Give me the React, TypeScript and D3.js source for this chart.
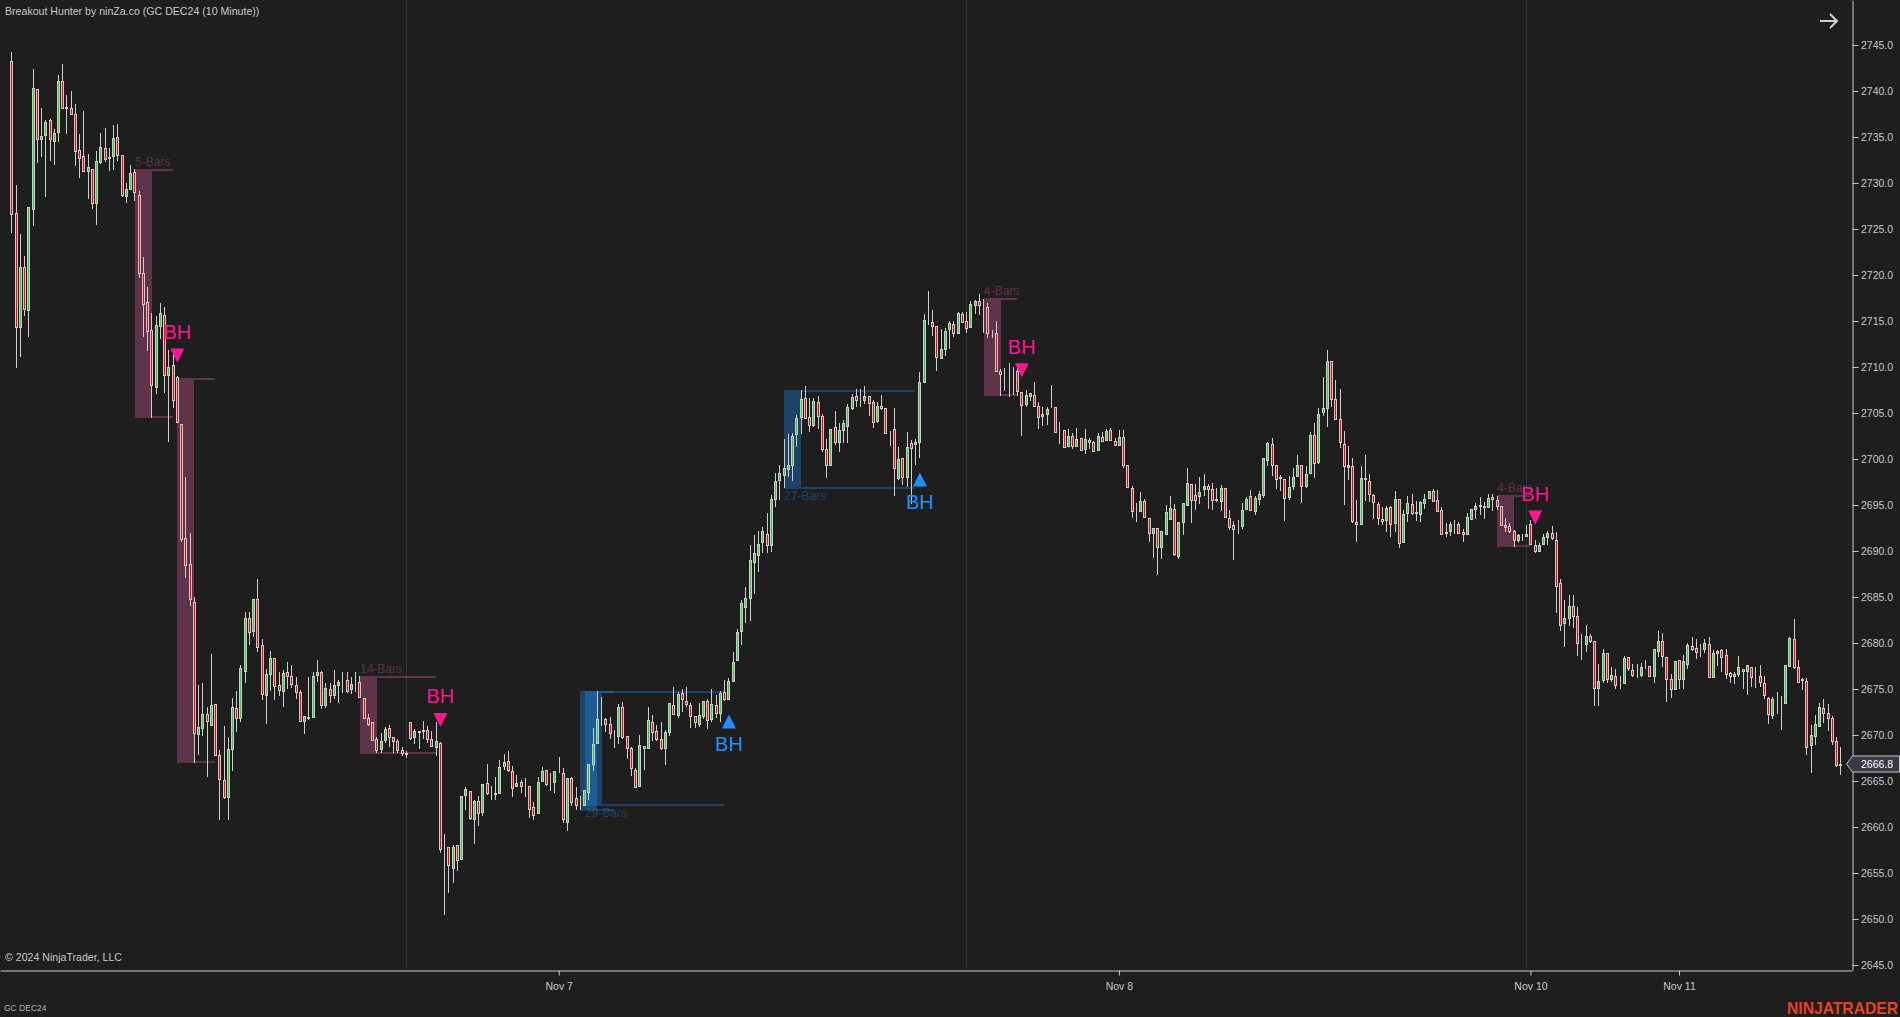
// App.tsx
import React, { useRef, useEffect } from 'react';
import * as d3 from 'd3';

// [open, high, low, close], one array per session
type Bar = [number, number, number, number];

const nov6Bars: Bar[] = [
    [2743.3, 2744.2, 2724.6, 2726.6], [2726.7, 2729.8, 2709.9, 2714.4], [2714.4, 2724.5, 2711.1, 2720.9], [2720.9, 2722.1, 2715.5, 2716.3],
    [2716.2, 2727.4, 2713.3, 2727.4], [2727.2, 2742.4, 2725.3, 2740.3], [2740.2, 2740.2, 2732.2, 2734.8], [2734.8, 2738.2, 2732.8, 2735.1],
    [2735.2, 2736.9, 2728.5, 2736.6], [2736.8, 2737.0, 2732.4, 2734.8], [2734.6, 2735.9, 2732.0, 2735.4], [2735.5, 2741.7, 2734.5, 2741.1],
    [2741.1, 2742.9, 2738.1, 2738.1], [2738.3, 2739.6, 2735.3, 2738.2], [2738.2, 2740.0, 2737.5, 2737.5], [2737.5, 2738.6, 2731.8, 2733.5],
    [2733.6, 2735.3, 2730.5, 2732.7], [2732.9, 2737.8, 2731.3, 2731.3], [2731.3, 2733.2, 2728.3, 2731.7], [2731.5, 2731.5, 2727.2, 2727.8],
    [2727.8, 2733.5, 2725.4, 2732.4], [2732.3, 2735.4, 2732.1, 2733.9], [2733.8, 2736.0, 2732.3, 2732.6], [2732.8, 2733.8, 2731.3, 2732.7],
    [2732.9, 2736.3, 2731.4, 2734.9], [2735.0, 2736.4, 2732.4, 2733.0], [2733.0, 2733.0, 2728.5, 2728.7], [2728.6, 2730.0, 2727.8, 2729.3],
    [2729.3, 2732.0, 2729.2, 2731.1], [2731.2, 2731.5, 2728.0, 2729.0], [2728.7, 2729.1, 2719.7, 2720.2], [2720.2, 2722.0, 2713.3, 2716.8],
    [2717.1, 2718.7, 2711.7, 2713.9], [2714.0, 2715.9, 2704.5, 2708.0], [2707.8, 2715.5, 2707.1, 2714.6], [2714.5, 2717.0, 2713.0, 2715.9],
    [2715.7, 2716.5, 2707.2, 2709.1], [2709.1, 2711.9, 2701.9, 2710.0], [2710.2, 2711.9, 2705.5, 2706.4], [2708.9, 2709.0, 2703.9, 2704.0],
    [2703.8, 2703.8, 2691.0, 2691.3], [2691.4, 2698.0, 2687.1, 2688.5], [2688.6, 2692.0, 2684.0, 2684.8], [2684.5, 2685.0, 2667.0, 2670.2],
    [2670.1, 2675.4, 2667.8, 2670.9], [2670.8, 2675.7, 2669.9, 2672.3], [2672.3, 2673.1, 2665.4, 2671.5], [2671.1, 2678.8, 2671.1, 2673.3],
    [2673.4, 2673.4, 2667.8, 2667.8], [2667.8, 2668.4, 2660.8, 2665.2], [2665.1, 2671.0, 2663.1, 2663.3], [2663.3, 2669.8, 2660.8, 2668.5],
    [2668.5, 2674.0, 2666.1, 2673.0], [2672.9, 2674.8, 2670.3, 2671.8], [2671.9, 2677.6, 2671.4, 2677.3], [2677.0, 2683.4, 2675.6, 2682.7],
    [2682.7, 2683.4, 2679.8, 2681.2], [2681.3, 2684.8, 2680.7, 2684.8], [2684.8, 2687.0, 2679.0, 2679.6], [2679.8, 2680.4, 2673.8, 2674.5],
    [2674.4, 2677.2, 2671.2, 2676.6], [2676.6, 2679.1, 2674.8, 2678.4], [2678.4, 2678.4, 2673.8, 2675.3], [2675.4, 2676.8, 2674.2, 2674.9],
    [2674.8, 2677.1, 2673.1, 2676.7], [2676.8, 2677.9, 2675.0, 2676.4], [2676.4, 2677.6, 2675.1, 2675.5], [2675.4, 2676.3, 2673.9, 2674.7],
    [2674.7, 2674.9, 2671.5, 2671.5], [2671.5, 2672.1, 2670.1, 2672.1], [2671.9, 2676.3, 2671.6, 2672.0], [2672.0, 2676.9, 2671.8, 2676.4],
    [2676.5, 2678.2, 2675.8, 2676.8], [2676.9, 2677.0, 2672.8, 2673.3], [2673.3, 2675.7, 2672.9, 2675.1], [2675.0, 2675.6, 2673.5, 2674.3],
    [2674.4, 2677.1, 2673.9, 2675.4], [2675.4, 2676.0, 2673.5, 2675.8], [2676.0, 2676.9, 2674.6, 2676.0], [2676.0, 2676.9, 2674.6, 2674.8],
    [2675.0, 2676.3, 2674.5, 2675.5], [2675.8, 2676.9, 2674.7, 2675.8], [2675.8, 2676.4, 2674.0, 2674.1], [2674.0, 2674.0, 2671.9, 2671.9],
    [2671.9, 2672.3, 2671.0, 2671.2], [2671.4, 2671.4, 2669.4, 2669.5], [2669.6, 2669.8, 2668.0, 2668.4], [2668.5, 2670.2, 2668.1, 2669.4],
    [2669.5, 2670.9, 2669.1, 2670.7], [2670.8, 2671.1, 2668.7, 2669.8], [2669.8, 2669.8, 2668.0, 2669.4], [2669.4, 2669.6, 2668.1, 2668.4],
    [2668.4, 2668.7, 2667.7, 2668.0],
];

const nov7EarlyBars: Bar[] = [
    [2667.9, 2668.3, 2667.5, 2668.1], [2671.4, 2671.4, 2669.5, 2669.7], [2669.8, 2670.7, 2669.0, 2670.4], [2670.4, 2670.4, 2668.5, 2670.3],
    [2670.4, 2671.5, 2669.6, 2670.6], [2670.6, 2671.0, 2669.1, 2669.6], [2669.6, 2670.4, 2668.7, 2668.8], [2668.7, 2671.4, 2667.7, 2669.3],
    [2669.1, 2669.2, 2657.2, 2657.6], [2657.7, 2659.2, 2650.4, 2657.7], [2657.8, 2657.8, 2652.8, 2655.9], [2655.6, 2658.0, 2653.9, 2657.8],
    [2658.0, 2658.1, 2655.2, 2656.4], [2656.5, 2663.4, 2656.5, 2663.4], [2663.5, 2664.4, 2661.8, 2664.1], [2663.9, 2663.9, 2660.8, 2661.0],
    [2660.9, 2662.9, 2658.2, 2662.8], [2662.8, 2663.4, 2660.1, 2661.5], [2661.6, 2664.7, 2661.2, 2664.7], [2664.8, 2666.8, 2663.5, 2663.7],
    [2663.8, 2664.5, 2662.9, 2663.8], [2663.7, 2665.4, 2662.9, 2663.6], [2663.7, 2667.3, 2663.7, 2666.5], [2666.6, 2667.9, 2666.2, 2667.1],
    [2667.2, 2668.3, 2666.0, 2666.2], [2666.1, 2666.6, 2663.3, 2664.2], [2664.5, 2665.7, 2664.4, 2664.8], [2664.9, 2665.1, 2663.7, 2664.5],
    [2664.4, 2665.3, 2663.3, 2664.4], [2664.5, 2664.5, 2661.0, 2662.0], [2662.2, 2662.7, 2660.8, 2661.3], [2661.5, 2665.4, 2661.5, 2664.9],
    [2665.0, 2666.5, 2665.0, 2666.1], [2666.2, 2666.2, 2664.5, 2664.7], [2664.8, 2665.9, 2663.9, 2664.8], [2664.9, 2666.1, 2663.7, 2666.1],
];

const nov7Bars: Bar[] = [
    [2666.1, 2667.6, 2665.9, 2666.1], [2665.9, 2666.4, 2660.4, 2660.9], [2660.6, 2665.3, 2659.6, 2665.3], [2665.3, 2665.4, 2662.3, 2662.7],
    [2663.2, 2664.3, 2661.9, 2662.4], [2662.4, 2663.4, 2661.8, 2662.4], [2662.4, 2664.0, 2662.3, 2664.0], [2663.8, 2666.9, 2662.9, 2666.9],
    [2666.8, 2670.8, 2666.1, 2669.0], [2669.1, 2674.8, 2669.1, 2671.7], [2671.6, 2674.1, 2671.0, 2671.6], [2671.7, 2671.9, 2670.3, 2671.2],
    [2671.2, 2672.0, 2669.6, 2670.2], [2670.2, 2670.5, 2668.6, 2670.2], [2669.9, 2673.4, 2669.0, 2673.0], [2673.1, 2673.6, 2669.6, 2669.8],
    [2669.9, 2669.9, 2667.4, 2668.6], [2668.6, 2668.7, 2665.6, 2666.4], [2666.2, 2666.4, 2664.4, 2664.4], [2664.5, 2670.0, 2664.4, 2668.9],
    [2668.8, 2668.8, 2666.2, 2668.6], [2668.6, 2673.0, 2668.5, 2671.6], [2671.4, 2672.2, 2669.3, 2670.3], [2670.4, 2671.1, 2669.3, 2669.6],
    [2669.6, 2671.4, 2668.4, 2668.6], [2668.6, 2670.5, 2666.7, 2670.3], [2670.3, 2673.5, 2669.9, 2673.5], [2673.3, 2675.2, 2672.3, 2672.3],
    [2672.2, 2674.7, 2671.9, 2674.5], [2674.6, 2675.0, 2672.5, 2673.9], [2673.7, 2675.2, 2673.1, 2673.4], [2673.3, 2673.5, 2670.8, 2672.1],
    [2672.1, 2672.1, 2670.8, 2671.4], [2671.2, 2673.5, 2670.9, 2672.2], [2672.1, 2673.7, 2671.7, 2673.7], [2673.7, 2673.9, 2670.7, 2671.6],
    [2671.7, 2675.0, 2671.4, 2673.4], [2673.3, 2674.4, 2671.8, 2672.4], [2672.4, 2674.8, 2671.4, 2674.6], [2674.7, 2676.0, 2673.7, 2673.9],
    [2673.9, 2676.2, 2673.9, 2675.9], [2675.9, 2679.0, 2675.8, 2677.9], [2678.1, 2681.5, 2678.1, 2681.2], [2681.3, 2684.7, 2679.8, 2684.3],
    [2683.9, 2686.1, 2682.2, 2684.9], [2684.9, 2690.6, 2682.4, 2689.0], [2688.8, 2691.7, 2685.3, 2689.8], [2689.6, 2692.2, 2687.7, 2690.8],
    [2691.0, 2692.6, 2689.8, 2692.2], [2691.9, 2694.1, 2689.8, 2690.6], [2690.7, 2696.1, 2689.9, 2695.7], [2695.7, 2698.5, 2694.8, 2697.6],
    [2697.7, 2699.3, 2695.5, 2698.5], [2698.3, 2702.2, 2696.8, 2699.0], [2698.9, 2702.7, 2698.0, 2699.4], [2699.3, 2702.8, 2697.6, 2702.5],
    [2702.7, 2704.8, 2701.3, 2704.5], [2704.6, 2707.5, 2702.7, 2706.5], [2706.6, 2707.9, 2704.3, 2704.5], [2704.6, 2706.6, 2702.9, 2703.7],
    [2703.7, 2706.6, 2703.5, 2706.3], [2706.2, 2706.8, 2703.3, 2704.7], [2704.7, 2704.9, 2700.8, 2701.1], [2701.1, 2702.2, 2697.9, 2699.3],
    [2699.4, 2703.3, 2699.3, 2703.3], [2703.5, 2705.2, 2701.5, 2701.9], [2701.8, 2703.9, 2700.8, 2703.2], [2703.1, 2704.2, 2701.7, 2703.9],
    [2703.6, 2706.0, 2701.7, 2705.6], [2705.5, 2707.1, 2705.3, 2706.7], [2706.9, 2707.6, 2705.6, 2706.4], [2706.5, 2707.6, 2705.7, 2706.5],
    [2706.4, 2707.9, 2706.0, 2706.9], [2706.9, 2706.9, 2704.7, 2706.1], [2706.2, 2706.4, 2703.4, 2704.0], [2704.1, 2706.2, 2703.9, 2705.8],
    [2705.8, 2707.0, 2705.3, 2705.5], [2705.5, 2705.5, 2702.8, 2702.8], [2703.0, 2703.0, 2701.4, 2703.0], [2703.3, 2705.5, 2696.0, 2699.0],
    [2697.9, 2701.3, 2697.7, 2700.0], [2700.1, 2700.1, 2697.2, 2698.0], [2698.0, 2702.9, 2697.0, 2701.3], [2701.7, 2702.1, 2695.1, 2701.2],
    [2701.6, 2702.2, 2699.3, 2701.8], [2701.8, 2709.5, 2700.1, 2708.4], [2708.4, 2715.8, 2708.3, 2715.1], [2715.1, 2718.3, 2714.6, 2715.1],
    [2714.9, 2716.2, 2713.4, 2714.5], [2714.5, 2714.5, 2709.6, 2711.1], [2711.0, 2714.1, 2710.9, 2712.0], [2712.0, 2714.2, 2711.2, 2713.9],
    [2714.1, 2715.0, 2712.0, 2714.8], [2714.7, 2715.0, 2713.3, 2713.7], [2713.7, 2716.0, 2713.6, 2715.9], [2715.8, 2716.0, 2714.8, 2714.9],
];

const nov8EarlyBars: Bar[] = [
    [2715.0, 2716.0, 2713.7, 2714.2], [2714.4, 2717.2, 2714.3, 2716.8], [2716.7, 2717.3, 2715.8, 2717.2], [2717.2, 2717.9, 2715.6, 2716.7],
    [2716.6, 2717.4, 2713.7, 2716.6], [2716.5, 2717.0, 2713.2, 2713.7], [2713.7, 2714.0, 2713.1, 2713.7], [2713.7, 2715.0, 2709.6, 2709.6],
    [2709.6, 2709.8, 2706.9, 2709.2], [2709.3, 2709.9, 2707.4, 2709.3], [2709.3, 2710.4, 2706.7, 2709.4], [2709.4, 2710.0, 2707.0, 2709.4],
    [2709.6, 2710.2, 2706.9, 2707.4], [2707.3, 2707.3, 2702.5, 2705.9], [2706.0, 2707.5, 2705.7, 2707.0], [2706.9, 2707.2, 2706.3, 2707.2],
    [2707.0, 2708.4, 2705.8, 2705.8], [2705.8, 2706.2, 2703.3, 2704.6], [2704.7, 2705.6, 2703.6, 2704.9], [2704.9, 2705.6, 2703.7, 2705.4],
    [2705.5, 2708.0, 2705.5, 2705.5], [2705.6, 2705.6, 2702.8, 2702.9], [2703.0, 2704.0, 2701.6, 2703.0], [2703.2, 2703.2, 2701.3, 2701.3],
    [2701.4, 2703.3, 2701.3, 2702.5], [2702.5, 2702.8, 2701.1, 2701.4], [2701.4, 2703.4, 2701.3, 2702.2], [2702.3, 2702.3, 2700.9, 2701.0],
    [2701.1, 2703.3, 2700.5, 2702.2], [2702.1, 2702.3, 2701.1, 2701.8], [2701.9, 2702.0, 2700.8, 2700.9], [2701.0, 2702.8, 2700.9, 2702.5],
    [2702.4, 2702.9, 2701.8, 2702.0], [2702.1, 2703.3, 2702.0, 2703.0], [2703.1, 2703.4, 2702.0, 2702.1], [2702.0, 2702.3, 2701.4, 2701.5],
];

const nov8Bars: Bar[] = [
    [2701.5, 2703.2, 2701.4, 2702.4], [2702.4, 2703.1, 2699.0, 2699.3], [2699.3, 2699.4, 2697.0, 2697.0], [2696.9, 2697.1, 2693.6, 2694.3],
    [2694.4, 2695.2, 2693.2, 2694.4], [2694.4, 2696.4, 2694.3, 2695.4], [2695.4, 2695.7, 2693.6, 2693.7], [2693.6, 2693.6, 2691.0, 2692.0],
    [2692.0, 2692.5, 2689.2, 2692.5], [2692.5, 2692.5, 2687.4, 2690.4], [2690.4, 2692.2, 2689.1, 2692.2], [2691.9, 2695.0, 2691.9, 2694.2],
    [2693.5, 2696.0, 2693.4, 2694.7], [2694.6, 2695.1, 2689.5, 2689.7], [2689.5, 2693.2, 2689.1, 2693.2], [2693.2, 2695.2, 2691.7, 2695.2],
    [2695.0, 2699.0, 2695.0, 2697.4], [2697.3, 2697.3, 2693.0, 2695.5], [2696.1, 2697.3, 2694.5, 2695.5], [2696.0, 2698.0, 2695.1, 2696.4],
    [2696.7, 2698.4, 2696.0, 2697.1], [2697.1, 2697.3, 2694.6, 2696.7], [2696.7, 2697.4, 2694.5, 2695.5], [2695.5, 2696.8, 2695.3, 2695.6],
    [2695.4, 2697.2, 2694.4, 2696.8], [2696.8, 2696.8, 2693.6, 2693.7], [2693.6, 2694.5, 2692.3, 2692.6], [2692.8, 2693.3, 2689.0, 2692.4],
    [2692.6, 2693.4, 2691.8, 2692.6], [2692.7, 2695.2, 2692.4, 2694.5], [2694.6, 2695.9, 2694.5, 2695.7], [2696.0, 2696.6, 2694.4, 2694.5],
    [2694.4, 2696.0, 2693.9, 2695.8], [2695.7, 2696.5, 2695.0, 2696.2], [2696.1, 2700.1, 2695.8, 2700.1], [2699.9, 2701.9, 2699.2, 2701.7],
    [2701.6, 2702.3, 2698.2, 2699.3], [2699.4, 2699.4, 2696.7, 2697.8], [2698.0, 2698.3, 2696.5, 2697.9], [2697.8, 2697.8, 2693.3, 2695.8],
    [2695.9, 2698.1, 2695.5, 2697.0], [2697.1, 2699.0, 2696.6, 2698.0], [2698.1, 2700.4, 2698.0, 2699.3], [2699.3, 2699.4, 2695.2, 2697.1],
    [2697.1, 2699.2, 2696.9, 2698.4], [2698.5, 2702.9, 2698.4, 2702.6], [2702.6, 2703.9, 2697.9, 2699.6], [2699.7, 2705.5, 2699.5, 2704.9],
    [2705.1, 2708.9, 2704.7, 2705.5], [2705.5, 2711.8, 2703.5, 2710.7], [2710.6, 2710.6, 2705.7, 2706.5], [2706.5, 2708.6, 2704.2, 2704.3],
    [2704.4, 2707.6, 2701.2, 2701.8], [2701.6, 2703.0, 2695.0, 2699.2], [2699.1, 2701.4, 2697.7, 2699.3], [2699.2, 2700.1, 2693.0, 2693.3],
    [2693.2, 2695.5, 2691.0, 2692.9], [2692.9, 2699.2, 2692.9, 2697.9], [2697.9, 2700.4, 2695.4, 2697.8], [2697.6, 2698.4, 2695.3, 2696.2],
    [2696.1, 2696.2, 2693.5, 2695.3], [2695.1, 2695.3, 2692.8, 2693.6], [2693.5, 2694.8, 2692.8, 2693.3], [2693.4, 2694.9, 2692.1, 2694.7],
    [2694.8, 2694.9, 2691.5, 2692.9], [2693.0, 2696.5, 2692.1, 2695.6], [2695.7, 2695.7, 2690.3, 2690.9], [2691.0, 2694.5, 2691.0, 2694.0],
    [2694.1, 2696.0, 2693.2, 2695.2], [2695.1, 2696.2, 2693.9, 2694.1], [2694.2, 2695.4, 2693.3, 2694.1], [2694.0, 2695.4, 2693.2, 2695.3],
    [2695.2, 2696.2, 2694.6, 2695.7], [2695.8, 2696.5, 2695.7, 2696.5], [2696.5, 2696.7, 2695.3, 2695.4], [2695.5, 2696.6, 2694.2, 2694.3],
    [2694.5, 2694.8, 2691.9, 2691.9], [2692.1, 2693.0, 2691.5, 2692.0], [2692.2, 2693.1, 2691.6, 2692.9], [2693.0, 2693.4, 2691.8, 2693.0],
    [2692.9, 2693.1, 2691.8, 2692.0], [2692.1, 2692.4, 2691.0, 2691.8], [2691.8, 2694.1, 2691.7, 2693.7], [2693.5, 2694.6, 2693.4, 2694.6],
    [2694.6, 2695.2, 2693.5, 2694.9], [2695.0, 2695.9, 2693.9, 2694.9], [2694.9, 2695.3, 2693.5, 2694.8], [2694.8, 2696.2, 2694.7, 2695.8],
    [2695.9, 2696.2, 2694.4, 2695.6], [2695.5, 2696.0, 2694.5, 2694.9], [2694.9, 2694.9, 2692.7, 2692.8], [2692.8, 2693.6, 2692.1, 2692.6],
    [2692.7, 2693.0, 2692.0, 2692.2], [2692.2, 2692.3, 2690.4, 2691.2], [2691.2, 2691.9, 2690.9, 2691.7], [2691.6, 2691.8, 2691.1, 2691.6],
];

const nov10Bars: Bar[] = [
    [2691.6, 2692.8, 2691.5, 2691.8], [2692.9, 2693.4, 2690.8, 2690.8], [2690.7, 2691.2, 2689.8, 2690.0], [2690.0, 2690.9, 2690.0, 2690.7],
    [2690.8, 2691.8, 2690.7, 2691.5], [2691.5, 2692.2, 2690.6, 2692.0], [2692.0, 2692.7, 2691.2, 2691.4], [2691.2, 2692.1, 2683.3, 2686.2],
    [2686.5, 2687.0, 2681.3, 2682.0], [2682.2, 2684.7, 2679.6, 2682.7], [2682.7, 2685.2, 2681.8, 2684.0], [2684.0, 2685.2, 2681.6, 2682.9],
    [2682.9, 2683.9, 2678.6, 2680.0], [2679.9, 2681.0, 2678.2, 2679.9], [2679.9, 2682.0, 2679.0, 2680.8], [2680.8, 2681.0, 2680.0, 2680.2],
    [2680.2, 2680.2, 2673.2, 2675.1], [2675.1, 2677.7, 2673.2, 2675.9], [2676.0, 2679.3, 2675.7, 2678.9], [2678.9, 2678.9, 2675.6, 2676.1],
    [2676.1, 2677.4, 2675.8, 2676.5], [2676.4, 2677.2, 2675.0, 2675.4], [2675.6, 2676.4, 2675.0, 2675.6], [2675.6, 2678.6, 2675.5, 2678.4],
    [2678.5, 2678.5, 2677.0, 2677.3], [2677.1, 2677.7, 2676.3, 2676.5], [2676.6, 2677.7, 2676.2, 2676.6], [2676.5, 2677.8, 2676.3, 2677.4],
    [2677.5, 2678.1, 2677.2, 2677.5], [2677.5, 2677.5, 2676.3, 2676.4], [2676.4, 2679.4, 2675.7, 2679.3], [2679.1, 2681.3, 2678.5, 2680.2],
    [2680.2, 2681.1, 2677.4, 2678.6], [2678.5, 2678.5, 2673.6, 2676.1], [2676.1, 2676.6, 2674.0, 2675.0], [2675.0, 2678.0, 2675.0, 2678.0],
];

const nov11Bars: Bar[] = [
    [2678.1, 2678.1, 2675.0, 2676.1], [2676.1, 2678.7, 2675.0, 2678.0], [2677.7, 2680.0, 2677.2, 2679.8], [2679.7, 2680.7, 2679.1, 2679.4],
    [2679.5, 2680.4, 2678.3, 2679.0], [2679.2, 2679.9, 2678.5, 2679.2], [2679.3, 2680.4, 2678.9, 2680.0], [2679.9, 2680.6, 2676.2, 2676.3],
    [2676.3, 2679.2, 2676.2, 2678.9], [2678.9, 2679.2, 2677.5, 2679.1], [2679.2, 2679.3, 2676.8, 2678.5], [2678.7, 2679.3, 2676.1, 2676.6],
    [2676.7, 2676.8, 2675.6, 2676.4], [2676.4, 2676.8, 2675.5, 2676.6], [2676.6, 2678.6, 2676.3, 2677.4], [2677.2, 2677.2, 2675.0, 2677.0],
    [2677.0, 2677.6, 2674.4, 2677.6], [2677.4, 2677.4, 2675.2, 2676.3], [2676.4, 2677.4, 2675.1, 2676.4], [2676.4, 2677.6, 2675.2, 2675.8],
    [2675.6, 2676.4, 2673.9, 2674.3], [2674.0, 2674.1, 2671.2, 2672.3], [2672.2, 2674.1, 2671.7, 2673.9], [2673.8, 2674.7, 2672.3, 2673.8],
    [2673.6, 2674.2, 2670.6, 2673.6], [2673.5, 2677.6, 2673.4, 2677.6], [2677.5, 2680.6, 2677.5, 2680.5], [2680.4, 2682.6, 2677.2, 2677.4],
    [2677.4, 2678.1, 2675.6, 2675.8], [2676.1, 2676.2, 2674.9, 2676.0], [2675.9, 2676.2, 2667.8, 2668.7], [2668.9, 2671.1, 2665.9, 2670.0],
    [2669.9, 2672.2, 2668.9, 2671.2], [2671.0, 2673.5, 2671.0, 2673.0], [2672.9, 2673.9, 2671.3, 2672.4], [2672.4, 2673.4, 2670.4, 2671.8],
    [2671.9, 2672.1, 2668.9, 2669.3], [2669.4, 2669.8, 2666.5, 2666.7], [2666.7, 2668.7, 2665.7, 2666.9],
];

const bars: Bar[] = [...nov6Bars, ...nov7EarlyBars, ...nov7Bars, ...nov8EarlyBars, ...nov8Bars, ...nov10Bars, ...nov11Bars];

const priceTicks = [2645, 2650, 2655, 2660, 2665, 2670, 2675, 2680, 2685, 2690, 2695, 2700, 2705, 2710, 2715, 2720, 2725, 2730, 2735, 2740, 2745];
const dateTickBars = [129, 261, 358, 393];
const dateTickLabels = ['Nov 7', 'Nov 8', 'Nov 10', 'Nov 11'];
const sessionBreakBars = [93, 225, 357];
const lastPrice = 2666.8;

// Breakout boxes: first bar, last bar of the range lines, top and bottom price
const bearBoxStart = [29, 39, 82, 229, 350];
const bearBoxEnd = [38, 48, 100, 237, 358];
const bearBoxTop = [2731.5, 2708.8, 2676.4, 2717.5, 2696.1];
const bearBoxBottom = [2704.5, 2667.0, 2667.9, 2706.8, 2690.4];
const bearBoxLabels = ['5-Bars', '', '14-Bars', '4-Bars', '4-Bars'];

const bullBoxStart = [134, 135, 182];
const bullBoxEnd = [142, 168, 213];
const bullBoxTop = [2674.8, 2674.8, 2707.5];
const bullBoxBottom = [2661.7, 2662.3, 2696.7];
const bullBoxLabels = ['', '29-Bars', '27-Bars'];

// Signal arrows: the bar and the price of the flat side of the triangle
const sellSignalBars = [39, 101, 238, 359];
const sellSignalPrices = [2712.0, 2672.4, 2710.4, 2694.4];
const buySignalBars = [169, 214];
const buySignalPrices = [2670.7, 2697.0];

const FONT = '"Liberation Sans", Arial, sans-serif';
const BACKGROUND = '#1e1e1e';
const AXIS_COLOR = '#c8c8c8';
const WICK_COLOR = '#cdcdcd';
const UP_COLOR = '#32cd32';
const DOWN_COLOR = '#ff0000';
const SELL_COLOR = '#ff1493';
const BUY_COLOR = '#1e90ff';
const SELL_BOX_COLOR = '#ff69b4';

const App: React.FC = () => {
    const svgRef = useRef<SVGSVGElement | null>(null);

    useEffect(() => {
        if (!svgRef.current) return;
        const svg = d3.select(svgRef.current);
        svg.selectAll('*').remove();

        // Scales: price panel stops at y=970, the price axis sits at x=1852
        const x = d3.scaleLinear().domain([-2.67, 433.77]).range([0, 1852]);
        const y = d3.scaleLinear().domain([2644.46, 2749.89]).range([970, 0]);
        const barSpan = x(4) - x(0);

        svg.append('rect').attr('width', 1900).attr('height', 1017).attr('fill', BACKGROUND);

        // Session break lines
        svg.append('g')
            .selectAll('line')
            .data(sessionBreakBars)
            .enter()
            .append('line')
            .attr('x1', (d) => Math.round(x(d)) + 0.5)
            .attr('x2', (d) => Math.round(x(d)) + 0.5)
            .attr('y1', 0)
            .attr('y2', 968)
            .attr('stroke', '#2f2f2f');

        // Breakout boxes and the range lines going out of them
        const drawBoxes = (
            starts: number[],
            ends: number[],
            tops: number[],
            bottoms: number[],
            labels: string[],
            color: string,
            labelBelow: boolean,
            alpha: number,
        ) => {
            const g = svg.append('g');
            starts.forEach((start, i) => {
                const x0 = Math.ceil(x(start));
                const top = Math.round(y(tops[i]));
                const bottom = Math.round(y(bottoms[i]));
                g.append('rect')
                    .attr('x', x0)
                    .attr('y', top)
                    .attr('width', barSpan)
                    .attr('height', bottom - top)
                    .attr('fill', color)
                    .attr('opacity', alpha)
                    .attr('shape-rendering', 'crispEdges');
                [top, bottom - 2].forEach((lineY) => {
                    g.append('rect')
                        .attr('x', x0 + barSpan)
                        .attr('y', lineY)
                        .attr('width', x(ends[i]) - x0 - barSpan)
                        .attr('height', 2)
                        .attr('fill', color)
                        .attr('opacity', alpha)
                        .attr('shape-rendering', 'crispEdges');
                });
                if (labels[i]) {
                    g.append('text')
                        .attr('x', x0)
                        .attr('y', labelBelow ? bottom + 11 : top - 3)
                        .attr('font-family', FONT)
                        .attr('font-size', 12)
                        .attr('fill', color)
                        .attr('opacity', alpha * 0.9)
                        .text(labels[i]);
                }
            });
        };
        drawBoxes(bearBoxStart, bearBoxEnd, bearBoxTop, bearBoxBottom, bearBoxLabels, SELL_BOX_COLOR, false, 0.29);
        drawBoxes(bullBoxStart, bullBoxEnd, bullBoxTop, bullBoxBottom, bullBoxLabels, BUY_COLOR, true, 0.33);

        // Candles
        const candles = svg
            .append('g')
            .attr('shape-rendering', 'crispEdges')
            .selectAll('g')
            .data(bars)
            .enter()
            .append('g');

        candles
            .append('line')
            .attr('x1', (d, i) => Math.round(x(i)) + 0.5)
            .attr('x2', (d, i) => Math.round(x(i)) + 0.5)
            .attr('y1', (d) => y(d[1]))
            .attr('y2', (d) => y(d[2]))
            .attr('stroke', WICK_COLOR);

        candles
            .append('rect')
            .attr('x', (d, i) => Math.round(x(i)) - 0.5)
            .attr('width', 2)
            .attr('y', (d) => Math.round(y(Math.max(d[0], d[3]))) + 0.5)
            .attr('height', (d) => Math.abs(Math.round(y(d[0])) - Math.round(y(d[3]))))
            .attr('fill', (d) => (d[3] >= d[0] ? UP_COLOR : DOWN_COLOR))
            .attr('stroke', WICK_COLOR);

        // Signal triangles with their BH text
        const drawSignals = (signalBars: number[], prices: number[], color: string, isSell: boolean) => {
            const g = svg.append('g');
            signalBars.forEach((bar, i) => {
                const cx = x(bar) + 0.5;
                const base = y(prices[i]);
                const tip = isSell ? base + 14 : base - 14;
                g.append('path')
                    .attr('d', `M${cx - 7},${base}L${cx + 7},${base}L${cx},${tip}Z`)
                    .attr('fill', color);
                g.append('text')
                    .attr('x', cx)
                    .attr('y', isSell ? base - 9.5 : base + 22)
                    .attr('text-anchor', 'middle')
                    .attr('font-family', FONT)
                    .attr('font-size', 20)
                    .attr('fill', color)
                    .text('BH');
            });
        };
        drawSignals(sellSignalBars, sellSignalPrices, SELL_COLOR, true);
        drawSignals(buySignalBars, buySignalPrices, BUY_COLOR, false);

        // Price axis
        const yAxis = svg
            .append('g')
            .attr('transform', 'translate(1852.5,0)')
            .call(
                d3
                    .axisRight(y)
                    .tickValues(priceTicks)
                    .tickSizeInner(6)
                    .tickSizeOuter(0)
                    .tickPadding(2.5)
                    .tickFormat((d) => d3.format('.1f')(d as number)),
            );
        yAxis.selectAll('path,line').attr('stroke', AXIS_COLOR);
        yAxis
            .selectAll('text')
            .attr('font-family', FONT)
            .attr('font-size', 10.5)
            .attr('fill', AXIS_COLOR);

        // Date axis
        const xAxis = svg
            .append('g')
            .attr('transform', 'translate(0,970.5)')
            .call(
                d3
                    .axisBottom(x)
                    .tickValues(dateTickBars)
                    .tickSizeInner(5)
                    .tickSizeOuter(0)
                    .tickPadding(7)
                    .tickFormat((d, i) => dateTickLabels[i]),
            );
        xAxis.selectAll('path,line').attr('stroke', AXIS_COLOR);
        xAxis
            .selectAll('text')
            .attr('font-family', FONT)
            .attr('font-size', 10.5)
            .attr('fill', AXIS_COLOR);

        // Last price flag
        const flagY = Math.round(y(lastPrice));
        svg.append('path')
            .attr('d', `M1846.5,${flagY}L1852.5,${flagY - 8}H1899.5V${flagY + 8}H1852.5Z`)
            .attr('fill', '#3a3a44')
            .attr('stroke', AXIS_COLOR);
        svg.append('text')
            .attr('x', 1861)
            .attr('y', flagY + 4)
            .attr('font-family', FONT)
            .attr('font-size', 10.5)
            .attr('fill', '#ffffff')
            .text(d3.format('.1f')(lastPrice));

        // Captions
        const caption = (text: string, tx: number, ty: number, size: number, color: string) =>
            svg.append('text')
                .attr('x', tx)
                .attr('y', ty)
                .attr('font-family', FONT)
                .attr('font-size', size)
                .attr('fill', color)
                .text(text);
        caption('Breakout Hunter by ninZa.co (GC DEC24 (10 Minute))', 5, 15, 10.6, AXIS_COLOR);
        caption('\u00a9 2024 NinjaTrader, LLC', 5, 961, 10.6, AXIS_COLOR);
        caption('GC DEC24', 4, 1011, 8.5, '#b0b0b0');
        caption('NINJATRADER', 1787, 1013.5, 17, '#e8431f')
            .attr('font-weight', 'bold')
            .attr('textLength', 111)
            .attr('lengthAdjust', 'spacingAndGlyphs');

        // Scroll arrow, top right
        svg.append('path')
            .attr('d', 'M1820,21H1837M1830,14L1837,21L1830,28')
            .attr('fill', 'none')
            .attr('stroke', '#d0d0d0')
            .attr('stroke-width', 2);
    }, []);

    return (
        <svg
            ref={svgRef}
            width={1900}
            height={1017}
            style={{ position: 'fixed', left: 0, top: 0, display: 'block' }}
        ></svg>
    );
};

export default App;
